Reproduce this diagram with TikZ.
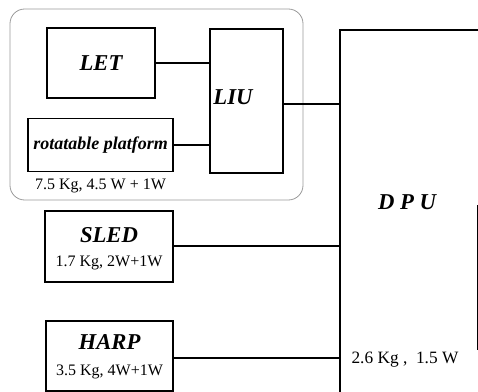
\documentclass[tikz,border=0pt]{standalone}
\usepackage{fontspec}
\setmainfont{Liberation Serif}
\usetikzlibrary{positioning}

\begin{document}
\begin{tikzpicture}[x=0.75pt,y=-0.75pt,line width=1.4pt,
  unit/.style={draw,inner sep=0pt,font=\fontsize{17}{19}\selectfont\bfseries\itshape},
  spec/.style={inner sep=0pt,font=\fontsize{12}{14}\selectfont}]
\useasboundingbox (0,0) rectangle (478,392);
% payload group
\draw[line width=0.6pt,gray!80,rounded corners=11pt] (10,9) rectangle (303,200);
\node[unit,minimum width=81pt,minimum height=52.5pt] (let) at (101,63) {LET};
\node[unit,minimum width=108.75pt,minimum height=39.75pt,font=\fontsize{13.5}{15}\selectfont\bfseries\itshape] (rot) at (100.5,145) {rotatable platform};
\node[spec,below=4pt of rot] (rotspec) {7.5 Kg, 4.5 W + 1W};
\node[unit,minimum width=54.75pt,minimum height=108pt] (liu) at (246.5,101) {};
\node[unit,draw=none] (liutxt) at (233,97) {LIU};
% other units
\node[unit,minimum width=96pt,minimum height=53.25pt] (sled) at (109,246.5) {};
\node[unit,draw=none] (sledtxt) at (109,235) {SLED};
\node[spec] (sledspec) at (109,263) {1.7 Kg, 2W+1W};
\node[unit,minimum width=95.25pt,minimum height=52.5pt] (harp) at (109.5,356) {};
\node[unit,draw=none] (harptxt) at (109.5,342) {HARP};
\node[spec] (harpspec) at (109.5,372) {3.5 Kg, 4W+1W};
% DPU
\coordinate (dpu) at (340,30);
\draw (340,400) -- (dpu) -- (480,30);
\draw[line width=0.6pt] (477,205) -- (477,350);
\node[unit,draw=none] (dputxt) at (407,202) {D P U};
\node[spec,font=\fontsize{13}{15}\selectfont] (dpuspec) at (405,360) {2.6 Kg ,\ \ 1.5 W};
% links
\draw (let) -- (let -| liu.west);
\draw (rot) -- (rot -| liu.west);
\draw (liu.east |- 0,104) -- (dpu |- 0,104);
\draw (sled.east |- 0,246) -- (dpu |- 0,246);
\draw (harp.east |- 0,358) -- (dpu |- 0,358);
\end{tikzpicture}
\end{document}
